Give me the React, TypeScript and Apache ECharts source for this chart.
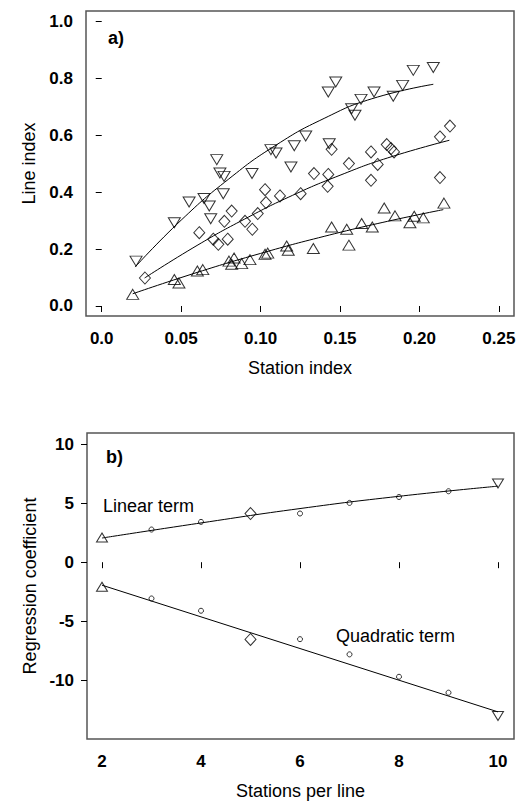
import React, { useEffect, useRef } from "react";
import * as echarts from "echarts";

// ---- Panel a) data ----
const downX = [0.0216, 0.0457, 0.055, 0.0644, 0.0677, 0.0686, 0.0724, 0.0744, 0.077, 0.0765, 0.0946, 0.1065, 0.1097, 0.1212, 0.1191, 0.1284, 0.1432, 0.1426, 0.1473, 0.1573, 0.1594, 0.1632, 0.1714, 0.1835, 0.1894, 0.1961, 0.2087];
const downY = [0.158, 0.293, 0.366, 0.378, 0.352, 0.307, 0.515, 0.468, 0.456, 0.395, 0.466, 0.55, 0.538, 0.564, 0.489, 0.598, 0.571, 0.753, 0.788, 0.694, 0.671, 0.727, 0.753, 0.738, 0.776, 0.829, 0.839];

const diamondX = [0.0272, 0.0614, 0.0702, 0.0734, 0.0793, 0.0772, 0.0818, 0.0902, 0.0948, 0.0982, 0.1028, 0.1034, 0.1122, 0.1252, 0.1336, 0.1426, 0.1422, 0.1447, 0.1556, 0.1695, 0.1695, 0.1737, 0.1794, 0.1821, 0.184, 0.2129, 0.2192, 0.2129];
const diamondY = [0.0985, 0.258, 0.235, 0.217, 0.235, 0.298, 0.334, 0.298, 0.27, 0.325, 0.409, 0.364, 0.387, 0.395, 0.466, 0.463, 0.421, 0.551, 0.501, 0.542, 0.442, 0.498, 0.568, 0.554, 0.542, 0.595, 0.633, 0.452];

const upX = [0.0195, 0.0457, 0.0486, 0.0602, 0.0636, 0.0801, 0.0833, 0.0818, 0.0881, 0.0933, 0.1028, 0.1045, 0.1164, 0.1174, 0.1332, 0.1447, 0.1542, 0.1556, 0.1636, 0.1703, 0.1778, 0.1846, 0.194, 0.1967, 0.2024, 0.2154];
const upY = [0.041, 0.093, 0.081, 0.123, 0.128, 0.158, 0.169, 0.147, 0.149, 0.163, 0.182, 0.186, 0.211, 0.196, 0.202, 0.278, 0.27, 0.214, 0.29, 0.278, 0.345, 0.317, 0.293, 0.316, 0.31, 0.362];

// fitted curves
const downFitX = [0.021, 0.05, 0.08, 0.11, 0.14, 0.17, 0.2087];
const downFitY = [0.137, 0.302, 0.447, 0.567, 0.66, 0.729, 0.78];
const diamondFitX = [0.027, 0.06, 0.09, 0.12, 0.15, 0.18, 0.2188];
const diamondFitY = [0.0985, 0.213, 0.306, 0.389, 0.46, 0.521, 0.583];
const upFitX = [0.0195, 0.06, 0.1, 0.14, 0.18, 0.215];
const upFitY = [0.043, 0.118, 0.185, 0.245, 0.298, 0.339];

const xTicksA = [0, 0.05, 0.1, 0.15, 0.2, 0.25];
const yTicksA = [0, 0.2, 0.4, 0.6, 0.8, 1.0];

// ---- Panel b) data ----
const stations = [2, 3, 4, 5, 6, 7, 8, 9, 10];
const linearCoef = [2.09, 2.77, 3.42, 4.13, 4.13, 5.03, 5.53, 6.02, 6.67];
const quadCoef = [-2.09, -3.08, -4.12, -6.55, -6.53, -7.82, -9.72, -11.07, -13.05];
const markerKind = ["up", "circle", "circle", "diamond", "circle", "circle", "circle", "circle", "down"];
const linearFitX = [2, 4, 6, 8, 10];
const linearFitY = [2.05, 3.33, 4.55, 5.59, 6.45];
const quadFitX = [2, 10];
const quadFitY = [-1.95, -12.7];

const xTicksB = [2, 4, 6, 8, 10];
const yTicksB = [-10, -5, 0, 5, 10];

const FONT = "'Liberation Sans', Arial, Helvetica, sans-serif";

const openStyle = { color: "rgba(0,0,0,0)", borderColor: "#000", borderWidth: 1 };

function symbolFor(kind: string) {
  if (kind === "up") return { symbol: "triangle", symbolSize: [11, 9], symbolRotate: 0 };
  if (kind === "down") return { symbol: "triangle", symbolSize: [11, 9], symbolRotate: 180 };
  if (kind === "diamond") return { symbol: "diamond", symbolSize: [11, 12], symbolRotate: 0 };
  return { symbol: "circle", symbolSize: 5, symbolRotate: 0 };
}

function zip(xs: number[], ys: number[]) {
  return xs.map((x, i) => [x, ys[i]]);
}

export default function App() {
  const ref = useRef<HTMLDivElement>(null);
  useEffect(() => {
    if (!ref.current) return;
    const chart = echarts.init(ref.current, undefined, { renderer: "svg" });

    const axisLabelBase = { color: "#000", fontSize: 17, fontWeight: "bold", fontFamily: FONT };
    const nameStyle = { color: "#000", fontSize: 18, fontFamily: FONT };
    const tick = { show: true, length: 6, lineStyle: { color: "#000", width: 1 } };

    const option: any = {
      animation: false,
      backgroundColor: "#fff",
      grid: [
        { left: 86, top: 11, width: 428, height: 305, show: true, borderColor: "#555", borderWidth: 1.5, containLabel: false },
        { left: 87, top: 433, width: 427, height: 306, show: true, borderColor: "#555", borderWidth: 1.5, containLabel: false },
      ],
      xAxis: [
        {
          gridIndex: 0, type: "value", min: -0.0099, max: 0.2595,
          axisLine: { show: false }, splitLine: { show: false },
          axisTick: { ...tick, customValues: xTicksA },
          axisLabel: { ...axisLabelBase, margin: 14, customValues: xTicksA, formatter: (v: number) => (v === 0 ? "0.0" : v.toFixed(2)) },
          name: "Station index", nameLocation: "middle", nameGap: 43, nameTextStyle: nameStyle,
        },
        {
          gridIndex: 1, type: "value", min: 1.697, max: 10.323,
          axisLine: { show: false }, splitLine: { show: false },
          axisTick: { ...tick, customValues: xTicksB },
          axisLabel: { ...axisLabelBase, margin: 14, customValues: xTicksB, formatter: (v: number) => String(v) },
          name: "Stations per line", nameLocation: "middle", nameGap: 43, nameTextStyle: nameStyle,
        },
      ],
      yAxis: [
        {
          gridIndex: 0, type: "value", min: -0.0352, max: 1.0378,
          axisLine: { show: false }, splitLine: { show: false },
          axisTick: { ...tick, customValues: yTicksA },
          axisLabel: { ...axisLabelBase, margin: 13, customValues: yTicksA, formatter: (v: number) => v.toFixed(1) },
          name: "Line index", nameLocation: "middle", nameGap: 44, nameTextStyle: nameStyle,
        },
        {
          gridIndex: 1, type: "value", min: -15.0, max: 10.96,
          axisLine: { show: false }, splitLine: { show: false },
          axisTick: { ...tick, customValues: yTicksB },
          axisLabel: { ...axisLabelBase, margin: 13, customValues: yTicksB, formatter: (v: number) => String(v) },
          name: "Regression coefficient", nameLocation: "middle", nameGap: 44, nameTextStyle: nameStyle,
        },
      ],
      series: [
        { type: "scatter", xAxisIndex: 0, yAxisIndex: 0, data: zip(downX, downY), symbol: "triangle", symbolRotate: 180, symbolSize: [12, 10], itemStyle: openStyle, silent: true },
        { type: "scatter", xAxisIndex: 0, yAxisIndex: 0, data: zip(diamondX, diamondY), symbol: "diamond", symbolSize: [11, 12], itemStyle: openStyle, silent: true },
        { type: "scatter", xAxisIndex: 0, yAxisIndex: 0, data: zip(upX, upY), symbol: "triangle", symbolSize: [12, 10], itemStyle: openStyle, silent: true },
        { type: "line", xAxisIndex: 0, yAxisIndex: 0, data: zip(downFitX, downFitY), smooth: true, showSymbol: false, lineStyle: { color: "#000", width: 1 }, silent: true },
        { type: "line", xAxisIndex: 0, yAxisIndex: 0, data: zip(diamondFitX, diamondFitY), smooth: true, showSymbol: false, lineStyle: { color: "#000", width: 1 }, silent: true },
        { type: "line", xAxisIndex: 0, yAxisIndex: 0, data: zip(upFitX, upFitY), smooth: true, showSymbol: false, lineStyle: { color: "#000", width: 1 }, silent: true },
        {
          type: "scatter", xAxisIndex: 1, yAxisIndex: 1, itemStyle: openStyle, silent: true,
          data: stations.map((s, i) => ({ value: [s, linearCoef[i]], ...symbolFor(markerKind[i]) })),
        },
        {
          type: "scatter", xAxisIndex: 1, yAxisIndex: 1, itemStyle: openStyle, silent: true,
          data: stations.map((s, i) => ({ value: [s, quadCoef[i]], ...symbolFor(markerKind[i]) })),
        },
        { type: "line", xAxisIndex: 1, yAxisIndex: 1, data: zip(linearFitX, linearFitY), smooth: true, showSymbol: false, lineStyle: { color: "#000", width: 1 }, silent: true },
        { type: "line", xAxisIndex: 1, yAxisIndex: 1, data: zip(quadFitX, quadFitY), showSymbol: false, lineStyle: { color: "#000", width: 1 }, silent: true },
      ],
      graphic: [
        { type: "text", left: 108, top: 29, style: { text: "a)", fill: "#000", font: `bold 18px ${FONT}` } },
        { type: "text", left: 106, top: 448, style: { text: "b)", fill: "#000", font: `bold 18px ${FONT}` } },
        { type: "text", left: 103, top: 497, style: { text: "Linear term", fill: "#000", font: `18px ${FONT}` } },
        { type: "text", left: 336, top: 627, style: { text: "Quadratic term", fill: "#000", font: `18px ${FONT}` } },
      ],
    };
    chart.setOption(option);
    return () => chart.dispose();
  }, []);
  return <div ref={ref} style={{ position: "fixed", left: 0, top: 0, width: 520, height: 805 }} />;
}
